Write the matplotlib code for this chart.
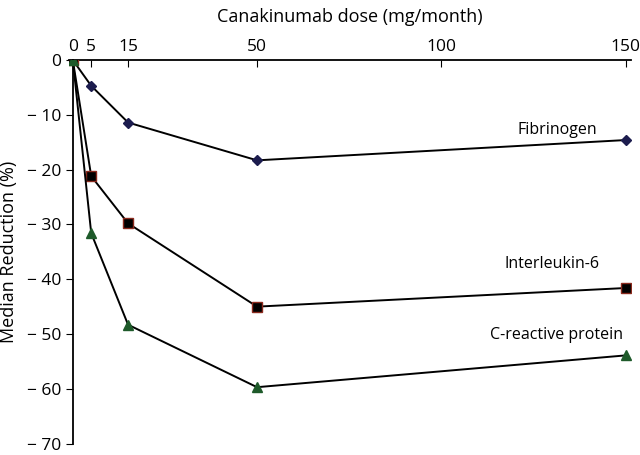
import matplotlib.pyplot as plt

# dose (mg/month) and median reduction (%)
doses = [0, 5, 15, 50, 150]
fibrinogen = [0, -4.7, -11.4, -18.3, -14.6]
interleukin6 = [0, -21.2, -29.8, -45.0, -41.6]
crp = [0, -31.6, -48.3, -59.7, -53.9]
x_ticks = [0, 5, 15, 50, 100, 150]
y_ticks = [0, -10, -20, -30, -40, -50, -60, -70]

plt.rcParams['font.family'] = ['Open Sans', 'DejaVu Sans']

fig = plt.figure(figsize=(6.4, 4.55), dpi=100)
ax = fig.add_axes([0.108, 0.025, 0.878, 0.843])

ax.plot(doses, fibrinogen, color='black', lw=1.4, marker='D', ms=5,
        mfc='#1c1c4e', mec='#1c1c4e', zorder=3)
ax.plot(doses, interleukin6, color='black', lw=1.4, marker='s', ms=7,
        mfc='black', mec='#8b2a1e', mew=1, zorder=4)
ax.plot(doses, crp, color='black', lw=1.4, marker='^', ms=6.5,
        mfc='#1e5a2a', mec='#1e5a2a', zorder=5)

ax.text(131.4, -12.7, 'Fibrinogen', fontsize=11.5, ha='center', va='center')
ax.text(130, -37.2, 'Interleukin-6', fontsize=11.5, ha='center', va='center')
ax.text(131.4, -50.1, 'C-reactive protein', fontsize=11.5, ha='center', va='center')

ax.set_xlim(-1, 151.5)
ax.set_ylim(-70, 0)
ax.xaxis.tick_top()
ax.xaxis.set_label_position('top')
ax.set_xticks(x_ticks)
ax.set_yticks(y_ticks)
ax.set_yticklabels([str(v).replace('-', '\u2212 ') if v else '0' for v in y_ticks])
ax.tick_params(axis='x', direction='in', length=5, labelsize=12.5, pad=4)
ax.tick_params(axis='y', direction='out', length=5, labelsize=12.5)
ax.set_xlabel('Canakinumab dose (mg/month)', fontsize=13, labelpad=12)
ax.set_ylabel('Median Reduction (%)', fontsize=13, labelpad=6)

ax.spines['right'].set_visible(False)
ax.spines['bottom'].set_visible(False)
ax.spines['left'].set_position(('data', 0))
for s in ['top', 'left']:
    ax.spines[s].set_linewidth(1.3)

plt.savefig('out.png', dpi=100)
